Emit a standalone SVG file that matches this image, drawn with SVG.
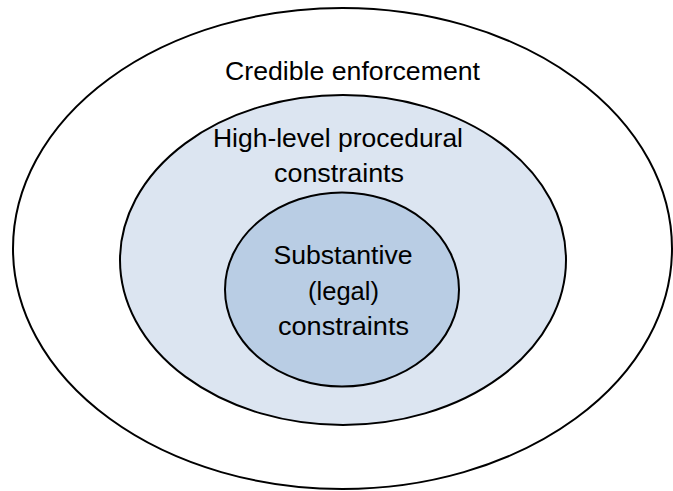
<svg xmlns="http://www.w3.org/2000/svg" width="673" height="491" viewBox="0 0 673 491">
<style>
.ring{stroke:#000;stroke-width:2}
.t{font-family:"Liberation Sans",Arial,sans-serif;font-size:26px;fill:#000;text-anchor:middle}
</style>
<rect width="673" height="491" fill="#fff"/>
<g id="outer">
<ellipse class="ring" cx="342.5" cy="248.5" rx="329.5" ry="240.5" fill="#fff"/>
<text class="t" x="352.5" y="80" textLength="255" lengthAdjust="spacingAndGlyphs">Credible enforcement</text>
</g>
<g id="middle">
<ellipse class="ring" cx="343" cy="260" rx="223" ry="165" fill="#DCE5F1"/>
<text class="t" x="338" y="147" textLength="250" lengthAdjust="spacingAndGlyphs">High-level procedural</text>
<text class="t" x="339" y="182" textLength="130" lengthAdjust="spacingAndGlyphs">constraints</text>
</g>
<g id="inner">
<ellipse class="ring" cx="342" cy="289.5" rx="117" ry="97" fill="#B9CDE4"/>
<text class="t" x="343" y="264" textLength="139" lengthAdjust="spacingAndGlyphs">Substantive</text>
<text class="t" x="343.5" y="299.5" textLength="71" lengthAdjust="spacingAndGlyphs">(legal)</text>
<text class="t" x="343.5" y="335" textLength="131" lengthAdjust="spacingAndGlyphs">constraints</text>
</g>
<g id="connectors"/>
</svg>
